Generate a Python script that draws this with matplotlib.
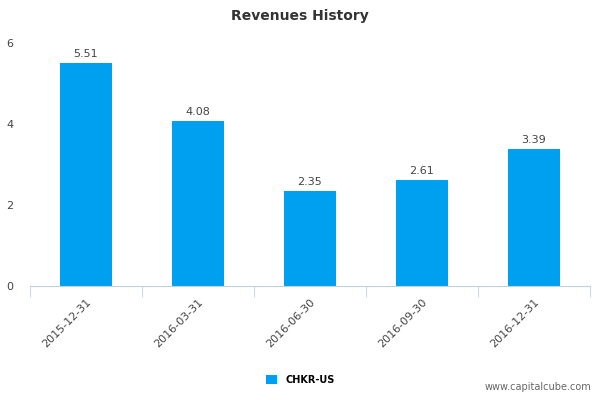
import matplotlib
matplotlib.use("Agg")
import matplotlib.pyplot as plt
import numpy as np

dates = ["2015-12-31", "2016-03-31", "2016-06-30", "2016-09-30", "2016-12-31"]
revenues = [5.51, 4.08, 2.35, 2.61, 3.39]
series_name = "CHKR-US"

fig = plt.figure(figsize=(6, 4), dpi=100)
ax = fig.add_axes([0.05, 0.285, 0.933, 0.6075])

x = np.arange(len(dates))
bars = ax.bar(x, revenues, width=0.47, color="#00a0f0", label=series_name)
for xi, v in zip(x, revenues):
    ax.text(xi, v + 0.1, f"{v:.2f}", ha="center", va="bottom", fontsize=8, color="#444444")

ax.set_xlim(-0.5, len(dates) - 0.5)
ax.set_ylim(0, 6)
ax.set_yticks([0, 2, 4, 6])
ax.tick_params(axis="y", length=0, labelsize=8, labelcolor="#444444", pad=12)
for s in ["top", "right", "left"]:
    ax.spines[s].set_visible(False)
ax.spines["bottom"].set_color("#c0d0e0")

ax.set_xticks(x)
ax.set_xticklabels(dates, rotation=45, ha="right", rotation_mode="anchor", fontsize=8, color="#444444")
ax.tick_params(axis="x", length=0, pad=8)
ax.set_xticks(np.arange(-0.5, len(dates), 1), minor=True)
ax.tick_params(axis="x", which="minor", length=8, color="#c0d0e0")

fig.text(0.5, 0.96, "Revenues History", ha="center", va="center", fontsize=10, fontweight="bold", color="#333333")
fig.legend(loc="center", bbox_to_anchor=(0.5, 0.05), frameon=False, fontsize=7, handlelength=1.2, handleheight=1.0,
           prop={"weight": "bold", "size": 7})
fig.text(0.985, 0.02, "www.capitalcube.com", ha="right", va="bottom", fontsize=7, color="#666666")

fig.savefig("out.png")
